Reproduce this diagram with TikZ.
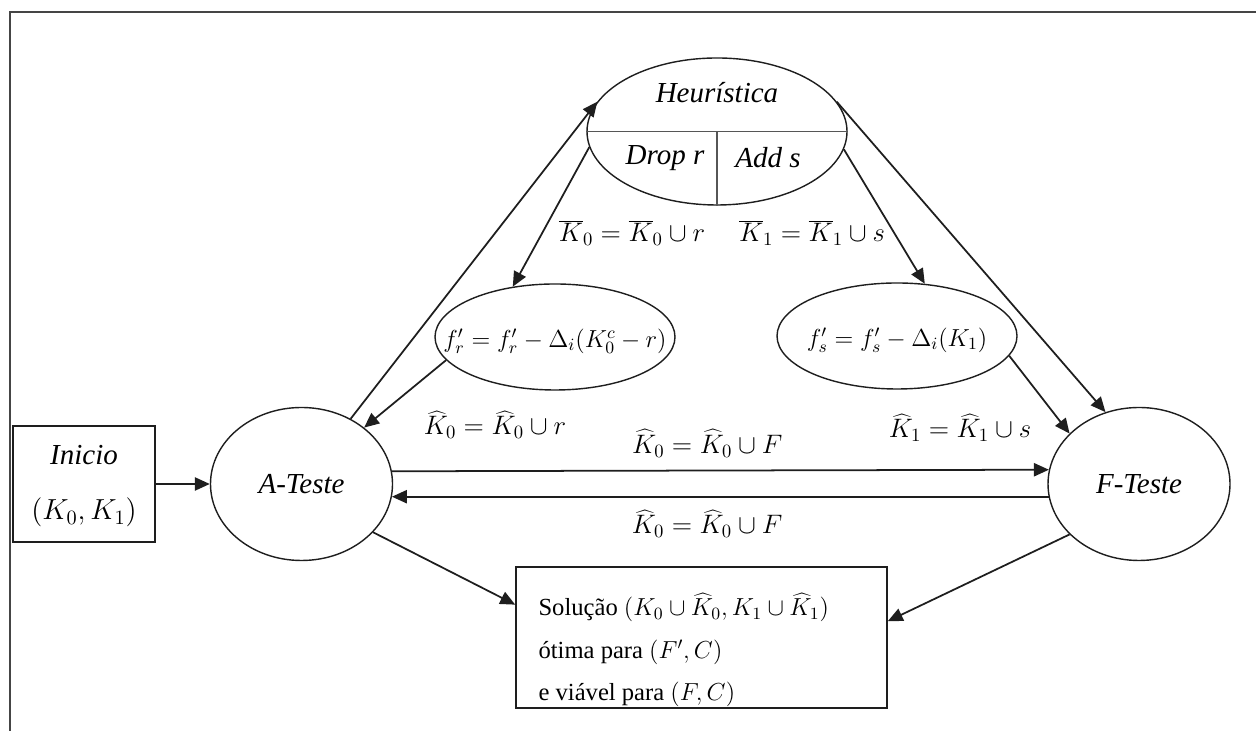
\documentclass[tikz,border=0pt]{standalone}
\usepackage{fix-cm}
\usepackage{fontspec}
\setmainfont{Liberation Serif}
\usetikzlibrary{shapes.geometric,arrows.meta}
\definecolor{ink}{HTML}{1E1E1E}
\definecolor{framegray}{HTML}{454545}

\begin{document}
\begin{tikzpicture}[
    >={Triangle[length=8.5pt,width=7.5pt]},
    every node/.style={font=\fontsize{16}{19}\selectfont},
    oval/.style={
      ellipse, draw=ink, line width=0.8pt,
      inner sep=0pt, fill=white
    },
    box/.style={
      rectangle, draw=ink, line width=0.9pt,
      inner sep=0pt, fill=white
    },
    ittext/.style={font=\fontsize{16.5}{19}\selectfont\itshape},
    formula/.style={font=\fontsize{14}{17}\selectfont, inner sep=0pt},
    boxtext/.style={font=\fontsize{14}{24}\selectfont, align=left, inner sep=0pt},
    edgelabel/.style={font=\fontsize{15.2}{18}\selectfont, inner sep=1pt},
    link/.style={draw=ink, line width=1pt, ->},
    divider/.style={draw=ink!75, line width=1pt},
  ]

  \useasboundingbox (0,0) rectangle (25.12,14.62);

  % Frame
  \draw[framegray, line width=1.5pt] (0.2,0) |- (25.12,14.38);

  % Nodes
  \node[box, minimum width=2.84cm, minimum height=2.32cm] (inicio) at (1.68,4.94) {};
  \node[ittext] (iniciotxt) at ([yshift=0.58cm]inicio.center) {Inicio};
  \node[ittext] (inicioset) at ([yshift=-0.57cm]inicio.center) {$(K_0,K_1)$};

  \node[oval, minimum width=3.64cm, minimum height=3.06cm, ittext] (ateste) at (6.03,4.94) {A-Teste};
  \node[oval, minimum width=3.64cm, minimum height=3.06cm, ittext] (fteste) at (22.78,4.94) {F-Teste};

  \node[oval, minimum width=5.2cm, minimum height=2.94cm] (heur) at (14.34,11.99) {};
  \node[ittext] (heurtxt) at ([yshift=0.77cm]heur.center) {Heurística};
  \node[ittext] (drop) at ([xshift=-1.04cm, yshift=-0.53cm]heur.center) {Drop r};
  \node[ittext] (add) at ([xshift=1.02cm, yshift=-0.53cm]heur.center) {Add s};

  \node[oval, minimum width=4.8cm, minimum height=2.12cm] (fr) at (11.10,7.88) {};
  \node[formula] (frtxt) at ([yshift=-0.08cm]fr.center) {$f'_r = f'_r - \Delta_i(K_0^c - r)$};
  \node[oval, minimum width=4.8cm, minimum height=2.12cm] (fs) at (17.94,7.90) {};
  \node[formula] (fstxt) at ([yshift=-0.08cm]fs.center) {$f'_s = f'_s - \Delta_i(K_1)$};

  \node[box, minimum width=7.42cm, minimum height=2.82cm] (sol) at (14.03,1.87) {};
  \node[boxtext, anchor=west] (soltxt) at ([xshift=0.46cm, yshift=-0.25cm]sol.west)
    {Solução $(K_0\cup\widehat{K}_0, K_1\cup\widehat{K}_1)$\\
     ótima para $(F',C)$\\
     e viável para $(F,C)$};

  % Heuristic split
  \draw[divider] (heur.west) -- (heur.east);
  \draw[divider] (heur.center) -- (heur.south);

  % Transitions
  \draw[link] (inicio.east) -- (ateste.west);
  \draw[link] (ateste.53) -- (heur.166);
  \draw[link] (heur.187) -- (fr.130);
  \draw[link] (fr.192) -- (ateste.42);
  \draw[link] (heur.-8) -- (fs.62);
  \draw[link] (heur.14) -- (fteste.115);
  \draw[link] (fs.-10) -- (fteste.144);

  \draw[link] (ateste.8.2) --
    node[edgelabel, above=6pt, pos=0.48] (lblup) {$\widehat{K}_0 = \widehat{K}_0 \cup F$}
    (fteste.171.8);
  \draw[link] (fteste.188.9) --
    node[edgelabel, below=6pt, pos=0.52] (lbldown) {$\widehat{K}_0 = \widehat{K}_0 \cup F$}
    (ateste.-8.9);

  \draw[link] (ateste.-34) -- (sol.170);
  \draw[link] (fteste.216) -- (sol.5);

  % Labels
  \node[edgelabel] (lblbar0) at (12.64,9.96) {$\overline{K}_0 = \overline{K}_0 \cup r$};
  \node[edgelabel] (lblbar1) at (16.24,9.96) {$\overline{K}_1 = \overline{K}_1 \cup s$};
  \node[edgelabel] (lblhat0) at (9.90,6.12) {$\widehat{K}_0 = \widehat{K}_0 \cup r$};
  \node[edgelabel] (lblhat1) at (19.20,6.06) {$\widehat{K}_1 = \widehat{K}_1 \cup s$};

\end{tikzpicture}
\end{document}
